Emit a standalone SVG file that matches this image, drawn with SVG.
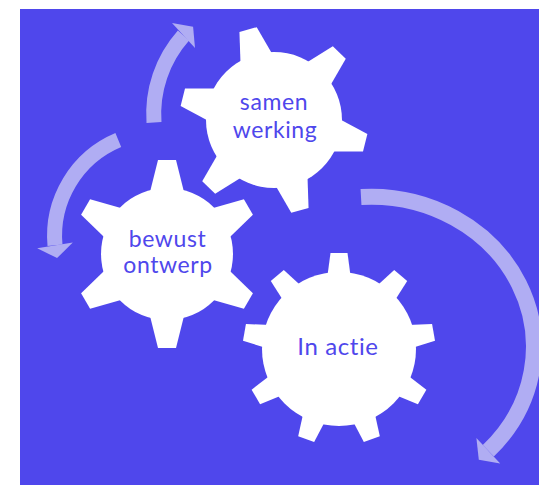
<svg xmlns="http://www.w3.org/2000/svg" xmlns:xlink="http://www.w3.org/1999/xlink" width="539" height="485" viewBox="0 0 539 485">
  <style>
    .gear { fill: #ffffff; }
    .label { font-family: Lato, "Open Sans", sans-serif; font-size: 23px; fill: #4F47EC; text-anchor: middle; }
    .band { fill: none; stroke: #B0ADF3; stroke-linecap: butt; }
    .head { fill: #B0ADF3; }
  </style>
  <defs>
    <polygon id="toothA" points="-9,-94 9,-94 18.75,-55 -18.75,-55"/>
    <polygon id="toothB" points="-8.5,-96 8.5,-96 12.5,-66 -12.5,-66"/>
  </defs>
  <rect x="20" y="9" width="519" height="476" fill="#4F47EC"/>

  <g id="connectors">
    <g id="arrow-top">
      <path class="band" stroke-width="15" d="M 154 122.5 A 118 118 0 0 1 183.5 35.5"/>
      <polygon class="head" points="172,23 193.1,26.7 195,48"/>
    </g>
    <g id="arrow-left">
      <path class="band" stroke-width="15" d="M 118.3 140 A 104 104 0 0 0 55 245.3"/>
      <polygon class="head" points="37.2,248.2 57.1,258.1 72.8,242.4"/>
    </g>
    <g id="arrow-right">
      <path class="band" stroke-width="16" d="M 361 197 A 163 150 0 0 1 488.3 450.8"/>
      <polygon class="head" points="476.4,438 478.8,459.7 500.2,463.6"/>
    </g>
  </g>

  <g id="gear-samenwerking">
    <g class="gear" transform="translate(274,120)">
      <circle r="68"/>
      <use xlink:href="#toothA" transform="rotate(-16)"/>
      <use xlink:href="#toothA" transform="rotate(44)"/>
      <use xlink:href="#toothA" transform="rotate(104)"/>
      <use xlink:href="#toothA" transform="rotate(164)"/>
      <use xlink:href="#toothA" transform="rotate(224)"/>
      <use xlink:href="#toothA" transform="rotate(284)"/>
    </g>
    <text class="label" x="274" y="110" letter-spacing="0.6">samen</text>
    <text class="label" x="275" y="138" letter-spacing="0.6">werking</text>
  </g>

  <g id="gear-bewustontwerp">
    <g class="gear" transform="translate(167,254)">
      <circle r="66"/>
      <use xlink:href="#toothA" transform="rotate(0)"/>
      <use xlink:href="#toothA" transform="rotate(60)"/>
      <use xlink:href="#toothA" transform="rotate(120)"/>
      <use xlink:href="#toothA" transform="rotate(180)"/>
      <use xlink:href="#toothA" transform="rotate(240)"/>
      <use xlink:href="#toothA" transform="rotate(300)"/>
    </g>
    <text class="label" x="167.5" y="246.5" letter-spacing="0.6">bewust</text>
    <text class="label" x="168" y="273" letter-spacing="0.6">ontwerp</text>
  </g>

  <g id="gear-inactie">
    <g class="gear" transform="translate(339,349)">
      <circle r="77"/>
      <use xlink:href="#toothB" transform="rotate(0)"/>
      <use xlink:href="#toothB" transform="rotate(40)"/>
      <use xlink:href="#toothB" transform="rotate(80)"/>
      <use xlink:href="#toothB" transform="rotate(120)"/>
      <use xlink:href="#toothB" transform="rotate(160)"/>
      <use xlink:href="#toothB" transform="rotate(200)"/>
      <use xlink:href="#toothB" transform="rotate(240)"/>
      <use xlink:href="#toothB" transform="rotate(280)"/>
      <use xlink:href="#toothB" transform="rotate(320)"/>
    </g>
    <text class="label" x="338" y="355" letter-spacing="0.6" style="font-size:24px">In actie</text>
  </g>
</svg>
